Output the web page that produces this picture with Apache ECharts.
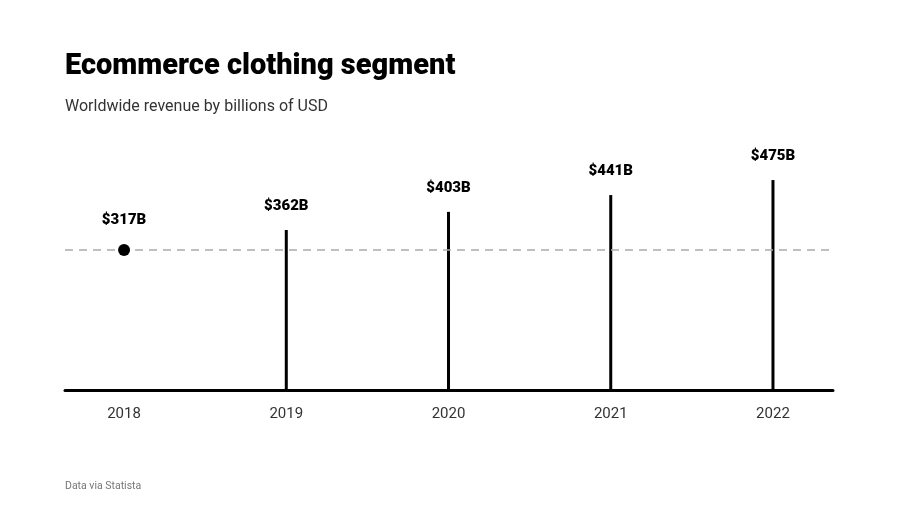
<!DOCTYPE html>
<html>
<head>
<meta charset="utf-8">
<script src="https://cdn.jsdelivr.net/npm/echarts@6/dist/echarts.min.js"></script>
<style>html,body{margin:0;padding:0;background:#fff}#c{width:902px;height:520px}</style>
</head>
<body>
<div id="c"></div>
<script>
var years = [2018, 2019, 2020, 2021, 2022];
var revenue = [317, 362, 403, 441, 475];
var baselineValue = 317;

var chart = echarts.init(document.getElementById('c'));
var labelStyle = {
  show: true, position: 'top', distance: 16,
  fontFamily: 'Roboto', fontWeight: 900, fontSize: 15, color: '#000',
  formatter: function (p) { return '$' + p.value[1] + 'B'; }
};
chart.setOption({
  animation: false,
  title: [
    { text: 'Ecommerce clothing segment', left: 60, top: 47,
      textStyle: { fontFamily: 'Roboto', fontWeight: 900, fontSize: 29, color: '#000' } },
    { text: 'Worldwide revenue by billions of USD', left: 60, top: 94,
      textStyle: { fontFamily: 'Roboto', fontWeight: 'normal', fontSize: 16, color: '#333' } },
    { text: 'Data via Statista', left: 60, top: 476,
      textStyle: { fontFamily: 'Roboto', fontWeight: 'normal', fontSize: 10.5, color: '#777' } }
  ],
  grid: { left: 65, right: 69, top: 169, bottom: 130 },
  xAxis: {
    type: 'value', min: 2017.636, max: 2022.37,
    axisLine: { show: true, onZero: false, lineStyle: { color: '#000', width: 3 } },
    axisTick: { show: false },
    splitLine: { show: false },
    axisLabel: { customValues: years, margin: 17, fontFamily: 'Roboto', fontSize: 15, color: '#333',
      formatter: function (v) { return String(Math.round(v)); } }
  },
  yAxis: {
    type: 'value', min: 0, max: 500, show: false, splitLine: { show: false }
  },
  series: [
    {
      type: 'bar', barWidth: 3,
      itemStyle: { color: '#000' },
      label: labelStyle,
      data: years.slice(1).map(function (y, i) { return [y, revenue[i + 1]]; }),
      markLine: {
        silent: true, symbol: 'none', label: { show: false },
        lineStyle: { color: '#aaa', type: [8, 6], width: 1.5 },
        data: [{ yAxis: baselineValue }]
      }
    },
    {
      type: 'scatter', symbol: 'circle', symbolSize: 12,
      itemStyle: { color: '#000', opacity: 1 },
      label: labelStyle,
      data: [[years[0], revenue[0]]],
      z: 5
    }
  ]
});
</script>
</body>
</html>
